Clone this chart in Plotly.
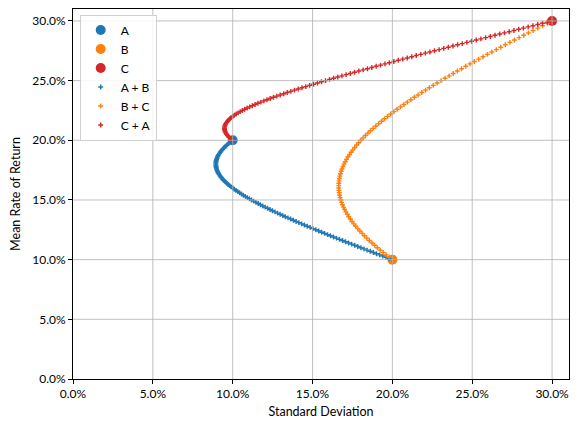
import plotly.graph_objects as go

# ---- data (percent) ----
asset_names = ["A", "B", "C"]
asset_sd = [10.0, 20.0, 30.0]
asset_mu = [20.0, 10.0, 30.0]

ab_sd = [20.000, 19.800, 19.601, 19.402, 19.204, 19.007, 18.810, 18.613, 18.417, 18.222,
         18.028, 17.834, 17.641, 17.449, 17.257, 17.066, 16.876, 16.687, 16.498, 16.311,
         16.125, 15.939, 15.754, 15.571, 15.388, 15.207, 15.027, 14.848, 14.670, 14.493,
         14.318, 14.144, 13.971, 13.800, 13.631, 13.463, 13.297, 13.132, 12.969, 12.808,
         12.649, 12.492, 12.337, 12.184, 12.033, 11.885, 11.739, 11.595, 11.454, 11.316,
         11.180, 11.048, 10.918, 10.791, 10.668, 10.548, 10.431, 10.317, 10.208, 10.102,
         10.000, 9.902, 9.808, 9.719, 9.633, 9.553, 9.476, 9.405, 9.338, 9.276,
         9.220, 9.168, 9.121, 9.080, 9.044, 9.014, 8.989, 8.969, 8.955, 8.947,
         8.944, 8.947, 8.955, 8.969, 8.989, 9.014, 9.044, 9.080, 9.121, 9.168,
         9.220, 9.276, 9.338, 9.405, 9.476, 9.553, 9.633, 9.719, 9.808, 9.902,
         10.000]
ab_mu = [10.0, 10.1, 10.2, 10.3, 10.4, 10.5, 10.6, 10.7, 10.8, 10.9,
         11.0, 11.1, 11.2, 11.3, 11.4, 11.5, 11.6, 11.7, 11.8, 11.9,
         12.0, 12.1, 12.2, 12.3, 12.4, 12.5, 12.6, 12.7, 12.8, 12.9,
         13.0, 13.1, 13.2, 13.3, 13.4, 13.5, 13.6, 13.7, 13.8, 13.9,
         14.0, 14.1, 14.2, 14.3, 14.4, 14.5, 14.6, 14.7, 14.8, 14.9,
         15.0, 15.1, 15.2, 15.3, 15.4, 15.5, 15.6, 15.7, 15.8, 15.9,
         16.0, 16.1, 16.2, 16.3, 16.4, 16.5, 16.6, 16.7, 16.8, 16.9,
         17.0, 17.1, 17.2, 17.3, 17.4, 17.5, 17.6, 17.7, 17.8, 17.9,
         18.0, 18.1, 18.2, 18.3, 18.4, 18.5, 18.6, 18.7, 18.8, 18.9,
         19.0, 19.1, 19.2, 19.3, 19.4, 19.5, 19.6, 19.7, 19.8, 19.9,
         20.0]

bc_sd = [20.000, 19.802, 19.609, 19.421, 19.238, 19.059, 18.886, 18.718, 18.556, 18.399,
         18.248, 18.103, 17.964, 17.832, 17.705, 17.586, 17.472, 17.366, 17.266, 17.174,
         17.088, 17.010, 16.939, 16.875, 16.819, 16.771, 16.730, 16.696, 16.671, 16.653,
         16.643, 16.641, 16.647, 16.660, 16.682, 16.711, 16.748, 16.792, 16.844, 16.904,
         16.971, 17.045, 17.127, 17.215, 17.311, 17.414, 17.524, 17.640, 17.763, 17.892,
         18.028, 18.170, 18.317, 18.471, 18.630, 18.795, 18.965, 19.141, 19.322, 19.507,
         19.698, 19.893, 20.093, 20.297, 20.506, 20.718, 20.935, 21.156, 21.380, 21.609,
         21.840, 22.076, 22.314, 22.556, 22.801, 23.049, 23.300, 23.554, 23.810, 24.069,
         24.331, 24.595, 24.862, 25.131, 25.402, 25.676, 25.952, 26.229, 26.509, 26.790,
         27.074, 27.359, 27.646, 27.935, 28.226, 28.518, 28.811, 29.106, 29.403, 29.701,
         30.000]
bc_mu = [10.0, 10.2, 10.4, 10.6, 10.8, 11.0, 11.2, 11.4, 11.6, 11.8,
         12.0, 12.2, 12.4, 12.6, 12.8, 13.0, 13.2, 13.4, 13.6, 13.8,
         14.0, 14.2, 14.4, 14.6, 14.8, 15.0, 15.2, 15.4, 15.6, 15.8,
         16.0, 16.2, 16.4, 16.6, 16.8, 17.0, 17.2, 17.4, 17.6, 17.8,
         18.0, 18.2, 18.4, 18.6, 18.8, 19.0, 19.2, 19.4, 19.6, 19.8,
         20.0, 20.2, 20.4, 20.6, 20.8, 21.0, 21.2, 21.4, 21.6, 21.8,
         22.0, 22.2, 22.4, 22.6, 22.8, 23.0, 23.2, 23.4, 23.6, 23.8,
         24.0, 24.2, 24.4, 24.6, 24.8, 25.0, 25.2, 25.4, 25.6, 25.8,
         26.0, 26.2, 26.4, 26.6, 26.8, 27.0, 27.2, 27.4, 27.6, 27.8,
         28.0, 28.2, 28.4, 28.6, 28.8, 29.0, 29.2, 29.4, 29.6, 29.8,
         30.0]

ca_sd = [30.000, 29.700, 29.401, 29.102, 28.803, 28.504, 28.206, 27.909, 27.612, 27.315,
         27.019, 26.723, 26.427, 26.132, 25.838, 25.544, 25.251, 24.958, 24.666, 24.374,
         24.083, 23.793, 23.503, 23.214, 22.926, 22.638, 22.352, 22.066, 21.781, 21.496,
         21.213, 20.931, 20.649, 20.369, 20.090, 19.812, 19.535, 19.259, 18.984, 18.711,
         18.439, 18.169, 17.900, 17.632, 17.367, 17.103, 16.840, 16.580, 16.322, 16.066,
         15.811, 15.560, 15.310, 15.063, 14.819, 14.577, 14.339, 14.103, 13.871, 13.642,
         13.416, 13.195, 12.977, 12.763, 12.554, 12.349, 12.149, 11.954, 11.764, 11.580,
         11.402, 11.229, 11.063, 10.904, 10.752, 10.607, 10.469, 10.339, 10.218, 10.104,
         10.000, 9.905, 9.818, 9.742, 9.675, 9.618, 9.571, 9.534, 9.508, 9.492,
         9.487, 9.492, 9.508, 9.534, 9.571, 9.618, 9.675, 9.742, 9.818, 9.905,
         10.000]
ca_mu = [30.0, 29.9, 29.8, 29.7, 29.6, 29.5, 29.4, 29.3, 29.2, 29.1,
         29.0, 28.9, 28.8, 28.7, 28.6, 28.5, 28.4, 28.3, 28.2, 28.1,
         28.0, 27.9, 27.8, 27.7, 27.6, 27.5, 27.4, 27.3, 27.2, 27.1,
         27.0, 26.9, 26.8, 26.7, 26.6, 26.5, 26.4, 26.3, 26.2, 26.1,
         26.0, 25.9, 25.8, 25.7, 25.6, 25.5, 25.4, 25.3, 25.2, 25.1,
         25.0, 24.9, 24.8, 24.7, 24.6, 24.5, 24.4, 24.3, 24.2, 24.1,
         24.0, 23.9, 23.8, 23.7, 23.6, 23.5, 23.4, 23.3, 23.2, 23.1,
         23.0, 22.9, 22.8, 22.7, 22.6, 22.5, 22.4, 22.3, 22.2, 22.1,
         22.0, 21.9, 21.8, 21.7, 21.6, 21.5, 21.4, 21.3, 21.2, 21.1,
         21.0, 20.9, 20.8, 20.7, 20.6, 20.5, 20.4, 20.3, 20.2, 20.1,
         20.0]

combo_names = ["A + B", "B + C", "C + A"]
tick_vals = [0, 5, 10, 15, 20, 25, 30]
tick_labels = ["0.0%", "5.0%", "10.0%", "15.0%", "20.0%", "25.0%", "30.0%"]

colors = ["#1f77b4", "#ff7f0e", "#d62728"]
FONT = "Lato"

fig = go.Figure()
for name, x, y, c in zip(asset_names, asset_sd, asset_mu, colors):
    fig.add_trace(go.Scatter(x=[x], y=[y], mode="markers", name=name,
                             marker=dict(color=c, size=10, line=dict(width=0))))
for name, xs, ys, c in zip(combo_names, [ab_sd, bc_sd, ca_sd], [ab_mu, bc_mu, ca_mu], colors):
    fig.add_trace(go.Scatter(x=xs, y=ys, mode="markers", name=name,
                             marker=dict(color=c, size=3.5, symbol="cross-thin",
                                         line=dict(width=1.4, color=c))))

# gridlines drawn above the markers (as in the reference)
shapes = []
for v in tick_vals[1:]:
    shapes.append(dict(type="line", xref="x", yref="paper", x0=v, x1=v, y0=0, y1=1,
                       line=dict(color="#b0b0b0", width=0.8), layer="above"))
    shapes.append(dict(type="line", xref="paper", yref="y", x0=0, x1=1, y0=v, y1=v,
                       line=dict(color="#b0b0b0", width=0.8), layer="above"))

axis_common = dict(
    tickvals=tick_vals, ticktext=tick_labels,
    showgrid=False, zeroline=False, automargin=False,
    showline=True, mirror=True, linecolor="black", linewidth=1,
    ticks="outside", ticklen=4, tickwidth=1, tickcolor="black",
    tickfont=dict(family=FONT, size=12, color="black"),
)

# page body has an 8px default margin: figure is sized/margined to compensate
fig.update_layout(
    width=571, height=422,
    margin=dict(l=65, r=10, t=1, b=51),
    paper_bgcolor="white", plot_bgcolor="white",
    font=dict(family=FONT, size=12, color="black"),
    shapes=shapes,
    xaxis=dict(range=[0, 31.06], title=dict(text="Standard Deviation", standoff=6,
               font=dict(family=FONT, size=12.5)), **axis_common),
    yaxis=dict(range=[0, 31.0], title=dict(text="Mean Rate of Return", standoff=8,
               font=dict(family=FONT, size=12.5)), **axis_common),
    showlegend=True,
    legend=dict(x=0.0135, y=0.985, xanchor="left", yanchor="top",
                bgcolor="rgba(255,255,255,0.85)", bordercolor="#d0d0d0", borderwidth=1,
                font=dict(family=FONT, size=12), itemsizing="trace"),
)

fig.write_html("out.html")
